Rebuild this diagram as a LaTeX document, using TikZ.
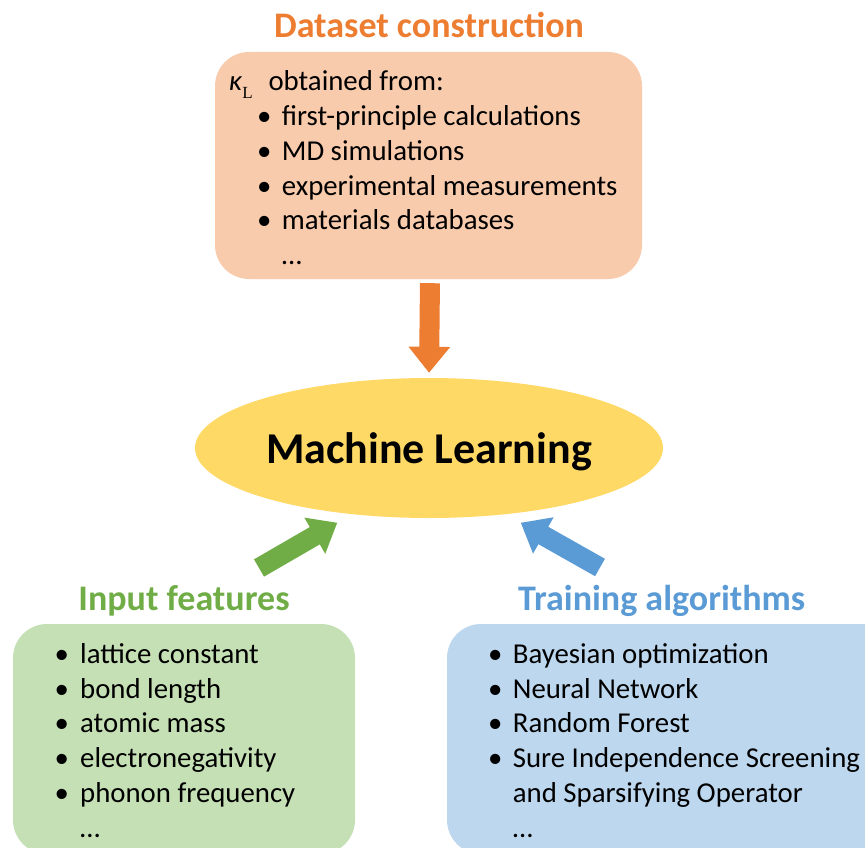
\documentclass[tikz,border=0pt]{standalone}
\usepackage{fontspec}
\setmainfont{Carlito}
\newfontfamily\serifL{Liberation Serif}
\usetikzlibrary{arrows.meta,shapes.geometric}
\definecolor{orD}{HTML}{ED7D31}
\definecolor{orL}{HTML}{F8CBAD}
\definecolor{goldY}{HTML}{FFD966}
\definecolor{grD}{HTML}{70AD47}
\definecolor{grL}{HTML}{C5E0B4}
\definecolor{blD}{HTML}{5B9BD5}
\definecolor{blL}{HTML}{BDD7EE}
\begin{document}
\begin{tikzpicture}[x=1pt,y=-1pt,
  body/.style={anchor=base west, inner sep=0pt, font=\fontsize{28.8}{34.8}\selectfont},
  bul/.style={anchor=base west, inner sep=0pt, font=\fontsize{28.8}{34.8}\selectfont},
  ttl/.style={anchor=base, inner sep=0pt, font=\fontsize{36}{40}\selectfont\bfseries},
  panel/.style={rectangle, rounded corners=34pt, inner sep=0pt},
  blockarrow/.style={line width=20pt, -{Triangle[width=40pt,length=26pt]}}]
\useasboundingbox (0,0) rectangle (865,848);
% panels
\node[panel, fill=orL, minimum width=427pt, minimum height=227pt] (ds) at (428.5,165.5) {};
\node[panel, fill=grL, minimum width=342pt, minimum height=230pt] (inp) at (184,739) {};
\node[panel, fill=blL, minimum width=460pt, minimum height=230pt] (tra) at (677,739) {};
\node[ellipse, fill=goldY, minimum width=468pt, minimum height=140pt, inner sep=0pt] (ml) at (429,448) {};
\node[anchor=base, inner sep=0pt, font=\fontsize{44}{48}\selectfont\bfseries] (mlt) at (429,463.3) {Machine Learning};
% titles
\node[ttl, text=orD] (tds) at (429,38) {Dataset construction};
\node[ttl, text=grD] (tin) at (184,610) {Input features};
\node[ttl, text=blD] (ttr) at (661.7,610) {Training algorithms};
% dataset list
\node[body] (k) at (229,90.7) {{\itshape κ}\raisebox{-0.27em}{\fontsize{17}{20}\serifL L}};
\node[body] (d0) at (268.3,90.7) {obtained from:};
\node[bul] (db1) at (257,125.5) {\textbullet};
\node[body] (d1) at (281.7,125.5) {first-principle calculations};
\node[bul] (db2) at (257,160.3) {\textbullet};
\node[body] (d2) at (281.7,160.3) {MD simulations};
\node[bul] (db3) at (257,195.1) {\textbullet};
\node[body] (d3) at (281.7,195.1) {experimental measurements};
\node[bul] (db4) at (257,229.9) {\textbullet};
\node[body] (d4) at (281.7,229.9) {materials databases};
\node[body] (d5) at (281.7,264.7) {…};
% input list
\node[bul] (ib1) at (54.5,663.3) {\textbullet};
\node[body] (i1) at (80,663.3) {lattice constant};
\node[bul] (ib2) at (54.5,698.1) {\textbullet};
\node[body] (i2) at (80,698.1) {bond length};
\node[bul] (ib3) at (54.5,732.9) {\textbullet};
\node[body] (i3) at (80,732.9) {atomic mass};
\node[bul] (ib4) at (54.5,767.7) {\textbullet};
\node[body] (i4) at (80,767.7) {electronegativity};
\node[bul] (ib5) at (54.5,802.5) {\textbullet};
\node[body] (i5) at (80,802.5) {phonon frequency};
\node[body] (i6) at (80,837.3) {…};
% training list
\node[bul] (tb1) at (488,663.3) {\textbullet};
\node[body] (t1) at (512.7,663.3) {Bayesian optimization};
\node[bul] (tb2) at (488,698.1) {\textbullet};
\node[body] (t2) at (512.7,698.1) {Neural Network};
\node[bul] (tb3) at (488,732.9) {\textbullet};
\node[body] (t3) at (512.7,732.9) {Random Forest};
\node[bul] (tb4) at (488,767.7) {\textbullet};
\node[body] (t4) at (512.7,767.7) {Sure Independence Screening};
\node[body] (t5) at (512.7,802.5) {and Sparsifying Operator};
\node[body] (t6) at (512.7,837.3) {…};
% arrows
\coordinate (gtail) at (259,568);
\coordinate (gtip) at (337.3,522.7);
\coordinate (btail) at (600,567.5);
\coordinate (btip) at (520.7,522.7);
\draw[blockarrow, orD, shorten <=4pt, shorten >=5pt] (ds.south -| ml.north) ++(1,0) -- (ml.north);
\draw[blockarrow, grD] (gtail) -- (gtip);
\draw[blockarrow, blD] (btail) -- (btip);
\end{tikzpicture}
\end{document}
